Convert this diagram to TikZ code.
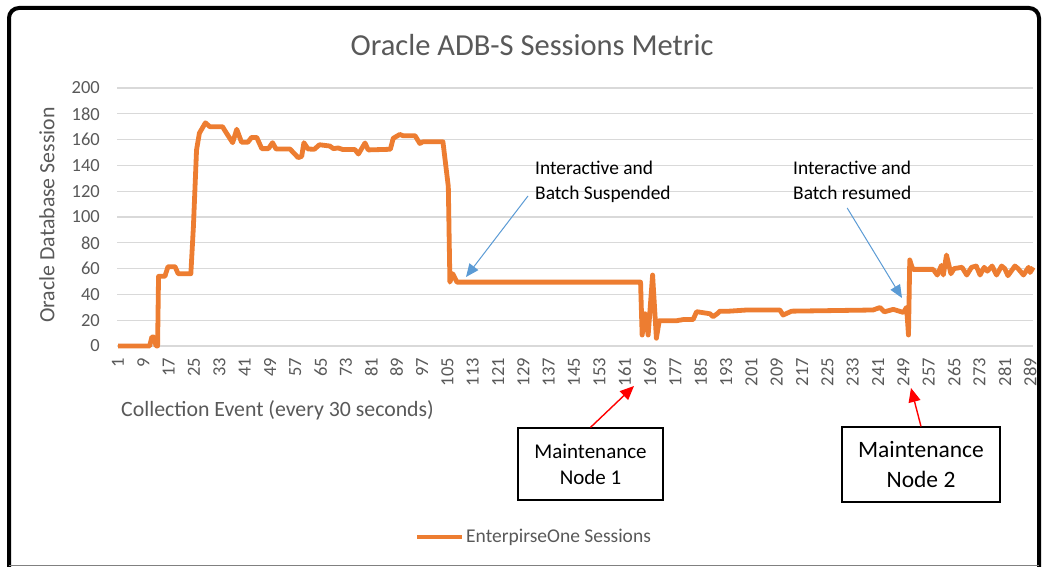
\documentclass[tikz,border=0pt]{standalone}
\usepackage{fontspec}
\setmainfont{Carlito}
\usetikzlibrary{arrows.meta}
\definecolor{excelorange}{HTML}{ED7D31}
\definecolor{axisgray}{HTML}{595959}
\definecolor{gridgray}{HTML}{D9D9D9}
\definecolor{calloutblue}{HTML}{5B9BD5}

\begin{document}
\begin{tikzpicture}[x=1pt,y=1pt,
		gridline/.style={color=gridgray,line width=1.2pt},
		ticklabel/.style={text=axisgray,inner sep=0pt,font=\fontsize{18.5}{20}\selectfont},
		axistitle/.style={text=axisgray,inner sep=0pt,font=\fontsize{21.8}{24}\selectfont},
		series/.style={color=excelorange,line width=4.8pt,line join=round},
		callout/.style={align=left,inner sep=0pt,font=\fontsize{19.4}{25}\selectfont},
		mbox/.style={draw,line width=1.2pt,align=center,inner sep=0pt},
		bluearrow/.style={color=calloutblue,line width=1pt,-{Triangle[length=13pt,width=11pt]}},
		redarrow/.style={color=red,line width=1.4pt,-{Triangle[length=14pt,width=12pt]}}]
		\useasboundingbox (0,0) rectangle (1045,567);
		\fill[white] (0,0) rectangle (1045,567);
		\draw[line width=4pt,rounded corners=10pt] (9,0) -- (9,559) -- (1039,559) -- (1039,0);
		\draw[color=gray,line width=1.5pt] (9,1.5) -- (1039,1.5);

		\node[text=axisgray,inner sep=0pt,font=\fontsize{30.5}{34}\selectfont] (title) at (532,522) {Oracle ADB-S Sessions Metric};

		\foreach \v in {0,20,...,200} {
			\draw[gridline] (117,{221+1.29*\v}) -- (1033,{221+1.29*\v});
			\node[ticklabel,anchor=east] (ylab\v) at (100,{221+1.29*\v}) {\v};
		}
		\foreach \i in {1,9,...,289} {
			\node[ticklabel,rotate=90,anchor=east] (xlab\i) at ({114.833+3.167*\i},209) {\i};
		}
		\node[axistitle,anchor=west] (xtitle) at (121,157) {Collection Event (every 30 seconds)};
		\node[axistitle,rotate=90] (ytitle) at (47,352) {Oracle Database Session};

		\begin{scope}[shift={(114.833pt,221pt)},x=3.167pt,y=1.29pt]
			\draw[series] plot coordinates {
				(1,0) (11,0) (11.7,7) (12.4,7) (13,0) (13.5,0) (13.8,54) (15.8,54) (16.8,61.5)
				(19,61.5) (20,56) (24,56) (24.8,92) (25.8,152) (26.7,165) (28.6,173) (30,170)
				(34,170) (35,166) (37.2,157.6) (38.5,168) (40,158) (42,158) (43.2,161.7)
				(44.8,161.7) (46.4,153) (48.5,153) (49.8,157.6) (50.9,152.7) (55.3,152.7)
				(57.9,146) (59,147) (59.7,157.6) (61,152.7) (63,152.5) (64.6,156) (67.9,155)
				(69,153) (70.5,153.5) (72,152.3) (75.8,152.3) (76.9,148.8) (79,157.4) (80,152)
				(87,152.5) (87.9,161) (90,164) (91,163) (94.8,163) (96.3,157) (97.3,158.3)
				(103.6,158.3) (105.3,123.5) (105.8,49.5) (106.7,56) (108,49.5) (166,49.5)
				(166.5,8.5) (167.4,25) (168.4,8.5) (169.8,55) (171,6) (171.9,19.6) (177.4,19.6)
				(179.5,20.5) (182.6,20.5) (183.7,26.6) (187.9,25) (188.9,22.7) (190.5,25.6)
				(191,27) (194,27) (199.5,27.9) (210,27.9) (211,24) (213.7,27) (239.4,27.9)
				(241.6,29.8) (243,26.5) (245.8,28.4) (249,26) (250,30) (250.6,8.5) (251,66.7)
				(251.6,62) (252,59.4) (258.4,59.4) (259.7,55) (261,62.5) (261.6,55) (262.6,70.5)
				(264,56) (265,60) (267.5,61) (269,55) (270.5,61) (272,62) (273.2,55) (274.5,61)
				(275.5,58) (277,62) (278.4,55) (280,62) (281,60) (282,54.5) (284.2,62) (285.2,60)
				(286.9,55) (288.5,61) (289,57) (290,61)
			};
		\end{scope}

		\node[callout,anchor=north west] (suspnote) at (535,406) {Interactive and\\Batch Suspended};
		\node[callout,anchor=north west] (resnote) at (793,406) {Interactive and\\Batch resumed};
		\coordinate (susptip) at (466,290);
		\coordinate (restip) at (902,269);
		\draw[bluearrow] ([xshift=-7pt,yshift=7pt]suspnote.south west) -- (susptip);
		\draw[bluearrow] ([xshift=-5pt,yshift=-8pt]resnote.south) -- (restip);

		\node[mbox,minimum width=145pt,minimum height=72pt,font=\fontsize{21}{26}\selectfont] (node1box) at (590.5,103) {Maintenance\\Node 1};
		\node[mbox,minimum width=158pt,minimum height=75pt,font=\fontsize{23.5}{30}\selectfont] (node2box) at (921,102.5) {Maintenance\\Node 2};
		\coordinate (m1tip) at (634,181);
		\coordinate (m2tip) at (911,179);
		\draw[redarrow] (node1box.north) -- (m1tip);
		\draw[redarrow] (node2box.north) -- (m2tip);

		\draw[series] (417,30) -- (462,30);
		\node[anchor=west,text=axisgray,inner sep=0pt,font=\fontsize{19.5}{22}\selectfont] (legend) at (466,30) {EnterpirseOne Sessions};
\end{tikzpicture}
\end{document}
